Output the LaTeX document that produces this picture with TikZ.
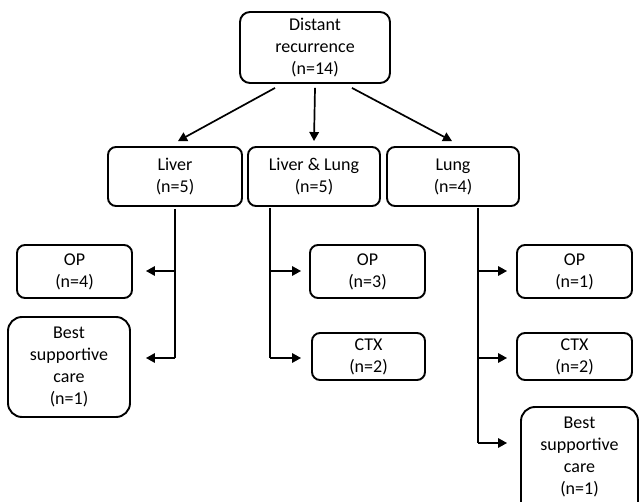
\documentclass[tikz,border=0pt]{standalone}
\usepackage{fontspec}
\setmainfont{Carlito}
\usetikzlibrary{arrows.meta}
\begin{document}
\begin{tikzpicture}[x=1pt,y=-1pt,
  box/.style={draw=black,line width=1.9pt,rounded corners=8pt,align=center,
    inner sep=0pt,font=\fontsize{18}{22}\selectfont,text=black},
  bigbox/.style={box,rounded corners=14pt},
  conn/.style={line width=1.7pt,draw=black},
  arr/.style={conn,-{Triangle[length=9pt,width=9.5pt]}}]
\useasboundingbox (0,0) rectangle (639,502);
\fill[white] (0,0) rectangle (639,502);
% nodes
\node[box,minimum width=150pt,minimum height=71pt,rounded corners=10pt] (top) at (315,47.5) {Distant\\recurrence\\(n=14)};
\node[box,minimum width=134pt,minimum height=59pt] (liver) at (175,176.5) {Liver\\(n=5)};
\node[box,minimum width=132pt,minimum height=59pt] (ll) at (314,176.5) {Liver \& Lung\\(n=5)};
\node[box,minimum width=132pt,minimum height=59pt] (lung) at (453,176.5) {Lung\\(n=4)};
\node[box,minimum width=115pt,minimum height=53pt] (op4) at (74.5,271.5) {OP\\(n=4)};
\node[bigbox,minimum width=122pt,minimum height=100pt] (bscL) at (69,367) {Best\\supportive\\care\\(n=1)};
\node[box,minimum width=115pt,minimum height=53pt] (op3) at (367.5,271.5) {OP\\(n=3)};
\node[box,minimum width=113pt,minimum height=47pt] (ctxa) at (368.5,356.5) {CTX\\(n=2)};
\node[box,minimum width=115pt,minimum height=53pt] (op1) at (574.5,271.5) {OP\\(n=1)};
\node[box,minimum width=115pt,minimum height=47pt] (ctxb) at (574.5,356.5) {CTX\\(n=2)};
\node[bigbox,minimum width=117pt,minimum height=112pt] (bscR) at (579.5,463) {Best\\supportive\\care\\(n=1)\\[-8pt]};
% top arrows
\draw[arr] ([xshift=-40pt,yshift=-4pt]top.south) -- ([xshift=3pt,yshift=5pt]liver.north);
\draw[arr] ([yshift=-4pt]top.south) -- ([yshift=5pt]ll.north);
\draw[arr] ([xshift=37pt,yshift=-4pt]top.south) -- ([xshift=-1pt,yshift=5pt]lung.north);
% liver branch
\coordinate (lv1) at (175,271);
\coordinate (lv2) at (175,358);
\draw[conn] ([yshift=-2pt]liver.south) -- (lv2);
\draw[arr,shorten >=13pt] (lv1) -- (lv1 -| op4.east);
\draw[arr,shorten >=15pt] (lv2) -- (lv2 -| bscL.east);
% liver & lung branch
\coordinate (ll0) at (270,208);
\coordinate (ll1) at (270,271);
\coordinate (ll2) at (270,358);
\draw[conn] (ll0) -- (ll2);
\draw[arr,shorten >=8pt] (ll1) -- (ll1 -| op3.west);
\draw[arr,shorten >=10pt] (ll2) -- (ll2 -| ctxa.west);
% lung branch
\coordinate (lu0) at (478,208);
\coordinate (lu1) at (478,271);
\coordinate (lu2) at (478,358);
\coordinate (lu3) at (478,443);
\draw[conn] (lu0) -- (lu3);
\draw[arr,shorten >=9pt] (lu1) -- (lu1 -| op1.west);
\draw[arr,shorten >=9pt] (lu2) -- (lu2 -| ctxb.west);
\draw[arr,shorten >=13pt] (lu3) -- (lu3 -| bscR.west);
\end{tikzpicture}
\end{document}
